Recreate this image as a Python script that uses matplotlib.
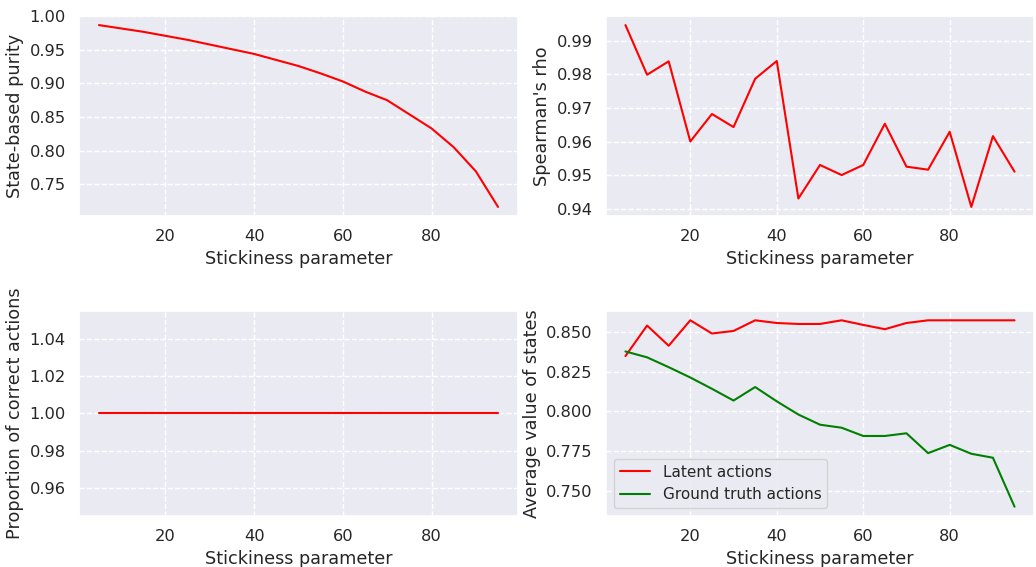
import matplotlib
matplotlib.use("Agg")
import matplotlib.pyplot as plt
import seaborn as sns
import numpy as np

# stickiness values on the x axis
stickiness = [5, 10, 15, 20, 25, 30, 35, 40, 45, 50, 55, 60, 65, 70, 75, 80, 85, 90, 95]

purity = [0.987, 0.982, 0.977, 0.971, 0.965, 0.958, 0.951, 0.944, 0.935, 0.926,
          0.915, 0.903, 0.888, 0.875, 0.854, 0.833, 0.805, 0.769, 0.716]

spearman = [0.9947, 0.9799, 0.9839, 0.9600, 0.9682, 0.9643, 0.9787, 0.9840, 0.9430, 0.9530,
            0.9500, 0.9530, 0.9653, 0.9525, 0.9516, 0.9629, 0.9405, 0.9616, 0.9510]

correct_actions = [1.0] * 19

latent_value = [0.8348, 0.8540, 0.8413, 0.8573, 0.8490, 0.8506, 0.8573, 0.8556, 0.8550, 0.8550,
                0.8573, 0.8544, 0.8517, 0.8556, 0.8573, 0.8573, 0.8573, 0.8573, 0.8573]

ground_truth_value = [0.8377, 0.8340, 0.8278, 0.8213, 0.8142, 0.8068, 0.8153, 0.8063, 0.7980, 0.7916,
                      0.7897, 0.7845, 0.7845, 0.7862, 0.7737, 0.7789, 0.7733, 0.7708, 0.7400]

sns.set_theme(style="darkgrid")
plt.rcParams["xtick.labelsize"] = 11.7
plt.rcParams["ytick.labelsize"] = 11.7
plt.rcParams["axes.labelsize"] = 12.7
plt.rcParams["legend.fontsize"] = 11

fig, axes = plt.subplots(2, 2, figsize=(10.36, 5.67), dpi=100,
                         gridspec_kw={"width_ratios": [439, 428], "height_ratios": [200, 205]})

ax = axes[0, 0]
ax.plot(stickiness, purity, color="red")
ax.set_ylabel("State-based purity")

ax = axes[0, 1]
ax.plot(stickiness, spearman, color="red")
ax.set_ylabel("Spearman's rho")

ax = axes[1, 0]
ax.plot(stickiness, correct_actions, color="red")
ax.set_ylabel("Proportion of correct actions")

ax = axes[1, 1]
ax.plot(stickiness, latent_value, color="red", label="Latent actions")
ax.plot(stickiness, ground_truth_value, color="green", label="Ground truth actions")
ax.set_ylabel("Average value of states")
ax.legend(loc="lower left")

for ax in axes.flat:
    ax.set_xlabel("Stickiness parameter")
    ax.grid(linestyle="--")

fig.subplots_adjust(left=79 / 1036, right=1034 / 1036, top=1 - 16 / 567, bottom=1 - 516 / 567,
                    hspace=0.469, wspace=0.203)
plt.savefig("out.png")
